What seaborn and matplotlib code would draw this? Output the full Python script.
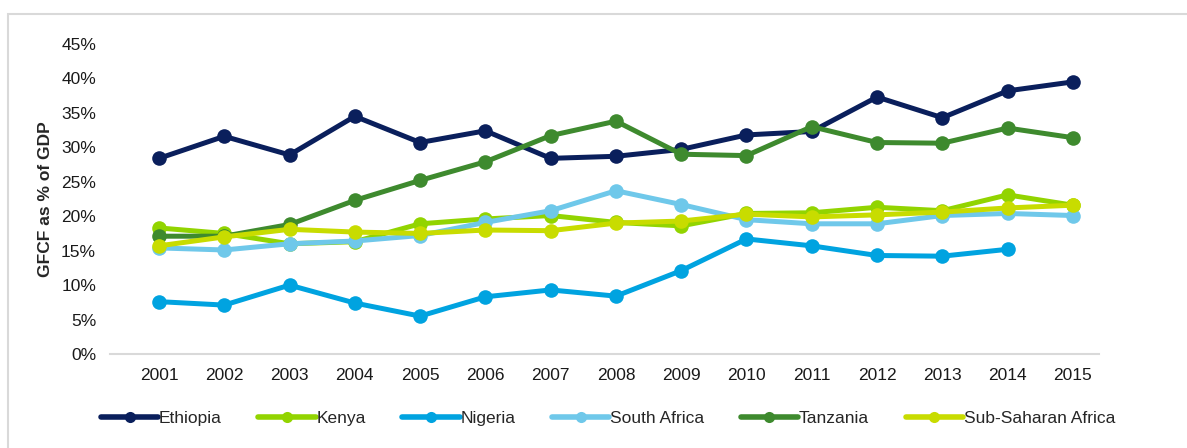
import pandas as pd
import numpy as np
import matplotlib.pyplot as plt
import seaborn as sns
from matplotlib.patches import Rectangle
from matplotlib.ticker import PercentFormatter

years = list(range(2001, 2016))
ethiopia = [28.4, 31.6, 28.9, 34.5, 30.7, 32.4, 28.4, 28.7, 29.7, 31.8, 32.3, 37.3, 34.3, 38.2, 39.5]
kenya = [18.3, 17.5, 16.0, 16.3, 18.9, 19.6, 20.1, 19.1, 18.6, 20.4, 20.5, 21.3, 20.8, 23.1, 21.6]
nigeria = [7.6, 7.1, 10.0, 7.4, 5.5, 8.3, 9.3, 8.4, 12.1, 16.7, 15.7, 14.3, 14.2, 15.2, np.nan]
south_africa = [15.4, 15.1, 16.0, 16.4, 17.2, 19.1, 20.8, 23.7, 21.7, 19.5, 18.9, 18.9, 20.1, 20.4, 20.1]
tanzania = [17.1, 17.1, 18.8, 22.3, 25.2, 27.9, 31.7, 33.8, 29.0, 28.8, 33.0, 30.7, 30.6, 32.8, 31.4]
ssa = [15.7, 17.0, 18.1, 17.7, 17.5, 18.0, 17.9, 19.0, 19.3, 20.3, 19.9, 20.2, 20.6, 21.2, 21.6]

countries = ['Ethiopia', 'Kenya', 'Nigeria', 'South Africa', 'Tanzania', 'Sub-Saharan Africa']
colors = ['#0a1f5c', '#92d400', '#00a3e0', '#6fc8ea', '#3e8a2e', '#c8dc00']

def build_frame():
    series = [ethiopia, kenya, nigeria, south_africa, tanzania, ssa]
    rows = []
    for name, vals in zip(countries, series):
        for y, v in zip(years, vals):
            rows.append({'year': y, 'country': name, 'value': v / 100})
    return pd.DataFrame(rows).dropna()

def main():
    df = build_frame()
    sns.set_style('white')
    plt.rcParams['font.family'] = ['Liberation Sans', 'DejaVu Sans']

    fig = plt.figure(figsize=(11.87, 4.48), dpi=100)
    ax = fig.add_axes([110 / 1187, 1 - 354 / 448, (1099 - 110) / 1187, (354 - 44) / 448])

    sns.lineplot(data=df, x='year', y='value', hue='country', hue_order=countries,
                 palette=colors, marker='o', markersize=10.5, markeredgewidth=0,
                 linewidth=3.6, ax=ax, legend=False)

    ax.set_ylim(0, 0.45)
    ax.set_xlim(2000.25, 2015.4)
    ax.set_xticks(years)
    ax.set_yticks(np.arange(0, 0.451, 0.05))
    ax.yaxis.set_major_formatter(PercentFormatter(1.0, decimals=0))
    ax.tick_params(axis='both', length=0, labelsize=12.5, colors='#1a1a1a')
    ax.tick_params(axis='x', pad=10)
    ax.tick_params(axis='y', pad=10)
    for s in ['top', 'right', 'left']:
        ax.spines[s].set_visible(False)
    ax.spines['bottom'].set_color('#d9d9d9')
    ax.spines['bottom'].set_linewidth(1.5)
    ax.set_xlabel('')
    ax.set_ylabel('GFCF as % of GDP', fontsize=12.5, fontweight='bold', labelpad=6)

    handles = [plt.Line2D([], [], color=c, marker='o', markersize=8, markeredgewidth=0,
                          linewidth=4) for c in colors]
    fig.legend(handles, countries, loc='center', bbox_to_anchor=(608 / 1187, 1 - 418 / 448),
               ncol=6, frameon=False, fontsize=12.5, handlelength=3.3, handletextpad=0.05,
               columnspacing=2.1)

    # light frame around the chart area
    fig.patches.append(Rectangle((8 / 1187, -0.2), 1.2, 1 - 14 / 448 + 0.2,
                                 transform=fig.transFigure, fill=False,
                                 edgecolor='#d9d9d9', linewidth=1.5))

    fig.savefig('out.png', dpi=100)
    plt.close(fig)

if __name__ == "__main__":
    main()
